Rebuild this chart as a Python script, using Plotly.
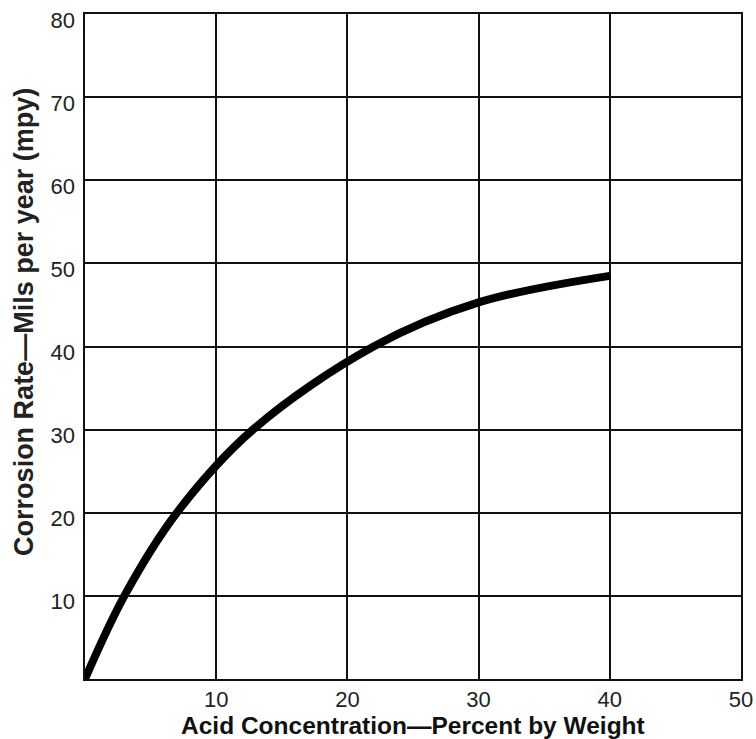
import plotly.graph_objects as go

# Data
acid_pct = [0, 3, 7, 12.8, 22, 30, 40]
corrosion_mpy = [0, 10, 20, 30, 40, 45.3, 48.5]

x_ticks = [10, 20, 30, 40, 50]
y_ticks = [10, 20, 30, 40, 50, 60, 70, 80]

x_title = "Acid Concentration\u2014Percent by Weight"
y_title = "Corrosion Rate\u2014Mils per year (mpy)"

FONT = "Liberation Sans, Arial, Helvetica, sans-serif"
LABEL_DROP = 0.7  # y tick labels in the original sit slightly below their grid lines

fig = go.Figure()
fig.add_trace(go.Scatter(
    x=acid_pct, y=corrosion_mpy, mode="lines",
    line=dict(color="#000000", width=8, shape="spline", smoothing=1.0),
    showlegend=False, hoverinfo="skip",
))
# empty trace so the label axis is drawn
fig.add_trace(go.Scatter(x=[None], y=[None], yaxis="y2", showlegend=False, hoverinfo="skip"))

tick_font = dict(family=FONT, size=22, color="#222222")
axis_common = dict(
    showgrid=True, gridcolor="#111111", gridwidth=2,
    showline=True, linecolor="#111111", linewidth=2, mirror=True,
    zeroline=False, ticks="", fixedrange=True, automargin=False,
    tickfont=tick_font,
)

fig.update_xaxes(range=[0, 50], tickvals=x_ticks, ticktext=[str(v) for v in x_ticks],
                 ticklabeloverflow="allow", **axis_common)
fig.update_yaxes(range=[0, 80], tickvals=y_ticks, showticklabels=False, **axis_common)

fig.update_layout(yaxis2=dict(
    overlaying="y", side="left", range=[0, 80],
    tickvals=[v - LABEL_DROP for v in y_ticks], ticktext=[str(v) for v in y_ticks],
    showgrid=False, showline=False, zeroline=False, ticks="", fixedrange=True,
    automargin=False, ticklabelstandoff=9, ticklabeloverflow="allow", tickfont=tick_font,
))

fig.add_annotation(
    text="<b>" + x_title + "</b>", xref="paper", yref="paper", x=0.5, y=-0.070,
    xanchor="center", yanchor="middle", showarrow=False,
    font=dict(family=FONT, size=24.5, color="#111111"),
)
fig.add_annotation(
    text="<b>" + y_title + "</b>", xref="paper", yref="paper", x=-0.093, y=0.537,
    xanchor="center", yanchor="middle", textangle=-90, showarrow=False,
    font=dict(family=FONT, size=27, color="#222222"),
)

fig.update_layout(
    width=756, height=739,
    margin=dict(l=85, r=15, t=14, b=60),
    paper_bgcolor="white", plot_bgcolor="white",
    hovermode=False,
)

# remove the page's default body margin so the figure fills the window exactly
fig.write_html(
    "out.html",
    config={"displayModeBar": False, "staticPlot": True},
    post_script="document.body.style.margin='0';document.body.style.overflow='hidden';",
)
